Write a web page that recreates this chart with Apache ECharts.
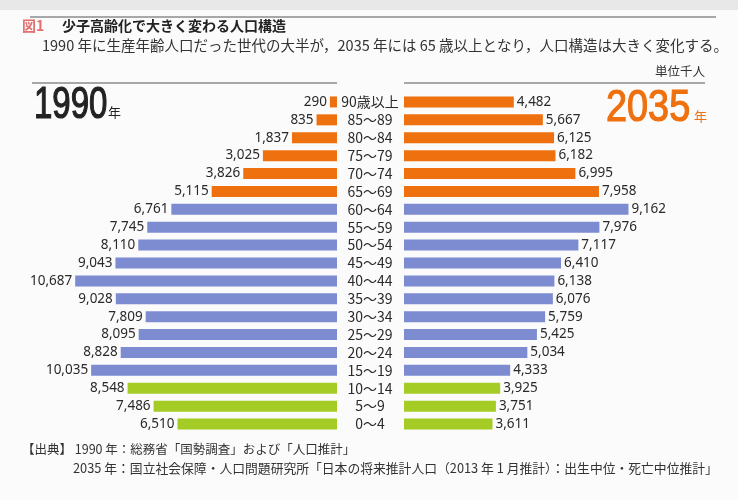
<!DOCTYPE html>
<html>
<head>
<meta charset="utf-8">
<script src="https://cdn.jsdelivr.net/npm/echarts@6/dist/echarts.min.js"></script>
<style>
  html, body { margin: 0; padding: 0; background: #fbfbfb; }
  #chart { width: 738px; height: 500px; }
</style>
</head>
<body>
<div id="chart"></div>
<script>
// 年齢階級（上から）
const ageGroups = ['90歳以上', '85〜89', '80〜84', '75〜79', '70〜74', '65〜69', '60〜64', '55〜59', '50〜54',
  '45〜49', '40〜44', '35〜39', '30〜34', '25〜29', '20〜24', '15〜19', '10〜14', '5〜9', '0〜4']

// 単位千人
const pop1990 = [290, 835, 1837, 3025, 3826, 5115, 6761, 7745, 8110, 9043, 10687, 9028, 7809, 8095, 8828, 10035, 8548, 7486, 6510]
const pop2035 = [4482, 5667, 6125, 6182, 6995, 7958, 9162, 7976, 7117, 6410, 6138, 6076, 5759, 5425, 5034, 4333, 3925, 3751, 3611]

const ORANGE = '#ee700e'
const BLUE = '#7d8bd0'
const GREEN = '#a5cc24'

// 65歳以上 / 15〜64歳 / 0〜14歳 で色分け
const barColor = (p) => (p.dataIndex < 6 ? ORANGE : p.dataIndex < 16 ? BLUE : GREEN)

const numFont = 'Noto Sans'
const jpFont = '"Noto Sans CJK JP"'

const chart = echarts.init(document.getElementById('chart'))

const labelStyle = {
  show: true,
  fontSize: 13.5,
  fontFamily: numFont,
  color: '#2a2a2a',
  distance: 3,
  formatter: (p) => p.value.toLocaleString('en-US'),
}

const option = {
  backgroundColor: '#fbfbfb',
  animation: false,
  grid: [
    { left: 43, right: 401, top: 93, height: 340 },
    { left: 404, right: 40, top: 93, height: 340 },
  ],
  xAxis: [
    { gridIndex: 0, type: 'value', min: 0, max: 12000, inverse: true, show: false },
    { gridIndex: 1, type: 'value', min: 0, max: 12000, show: false },
  ],
  yAxis: [
    {
      gridIndex: 0,
      type: 'category',
      data: ageGroups,
      inverse: true,
      position: 'right',
      axisLine: { show: false },
      axisTick: { show: false },
      axisLabel: {
        interval: 0,
        margin: 33,
        align: 'center',
        fontSize: 14,
        fontFamily: jpFont,
        color: '#2a2a2a',
      },
    },
    {
      gridIndex: 1,
      type: 'category',
      data: ageGroups,
      inverse: true,
      show: false,
    },
  ],
  series: [
    {
      name: '1990',
      type: 'bar',
      xAxisIndex: 0,
      yAxisIndex: 0,
      data: pop1990,
      barWidth: 11,
      itemStyle: { color: barColor },
      label: { ...labelStyle, position: 'left' },
    },
    {
      name: '2035',
      type: 'bar',
      xAxisIndex: 1,
      yAxisIndex: 1,
      data: pop2035,
      barWidth: 11,
      itemStyle: { color: barColor },
      label: { ...labelStyle, position: 'right' },
    },
  ],
  graphic: [
    { type: 'rect', shape: { x: 0, y: 0, width: 738, height: 10 }, style: { fill: '#e8e8e8' } },
    { type: 'line', shape: { x1: 30, y1: 17, x2: 716, y2: 17 }, style: { stroke: '#555', lineWidth: 1 } },
    {
      type: 'text', left: 22, top: 19,
      style: { text: '図1', fontSize: 14, fontWeight: 'bold', fontFamily: jpFont, fill: '#e36f6f' },
    },
    {
      type: 'text', left: 62, top: 19,
      style: { text: '少子高齢化で大きく変わる人口構造', fontSize: 14, fontWeight: 'bold', fontFamily: jpFont, fill: '#222' },
    },
    {
      type: 'text', left: 42, top: 38,
      style: {
        text: '1990 年に生産年齢人口だった世代の大半が，2035 年には 65 歳以上となり，人口構造は大きく変化する。',
        fontSize: 14.5, fontFamily: jpFont, fill: '#333',
      },
    },
    {
      type: 'text', right: 33, top: 65,
      style: { text: '単位千人', fontSize: 12.5, fontFamily: jpFont, fill: '#333' },
    },
    { type: 'line', shape: { x1: 32, y1: 83, x2: 337, y2: 83 }, style: { stroke: '#555', lineWidth: 1 } },
    { type: 'line', shape: { x1: 404, y1: 83, x2: 705, y2: 83 }, style: { stroke: '#555', lineWidth: 1 } },
    {
      type: 'text', x: 34, y: 84, scaleX: 0.75,
      style: { text: '1990', fontSize: 44, fontFamily: 'Liberation Sans', fill: '#222', stroke: '#222', lineWidth: 1.2 },
    },
    {
      type: 'text', x: 108, y: 106,
      style: { text: '年', fontSize: 13, fontFamily: jpFont, fill: '#222' },
    },
    {
      type: 'text', x: 606, y: 87, scaleX: 0.86,
      style: { text: '2035', fontSize: 44, fontFamily: 'Liberation Sans', fill: ORANGE, stroke: ORANGE, lineWidth: 1.2 },
    },
    {
      type: 'text', x: 694, y: 110,
      style: { text: '年', fontSize: 13, fontFamily: jpFont, fill: ORANGE },
    },
    {
      type: 'text', left: 22, top: 443,
      style: { text: '【出典】 1990 年：総務省「国勢調査」および「人口推計」', fontSize: 12.5, fontFamily: jpFont, fill: '#333' },
    },
    {
      type: 'text', left: 73, top: 462,
      style: {
        text: '2035 年：国立社会保障・人口問題研究所「日本の将来推計人口（2013 年 1 月推計）：出生中位・死亡中位推計」',
        fontSize: 12.8, fontFamily: jpFont, fill: '#333',
      },
    },
  ],
}

chart.setOption(option)
</script>
</body>
</html>
